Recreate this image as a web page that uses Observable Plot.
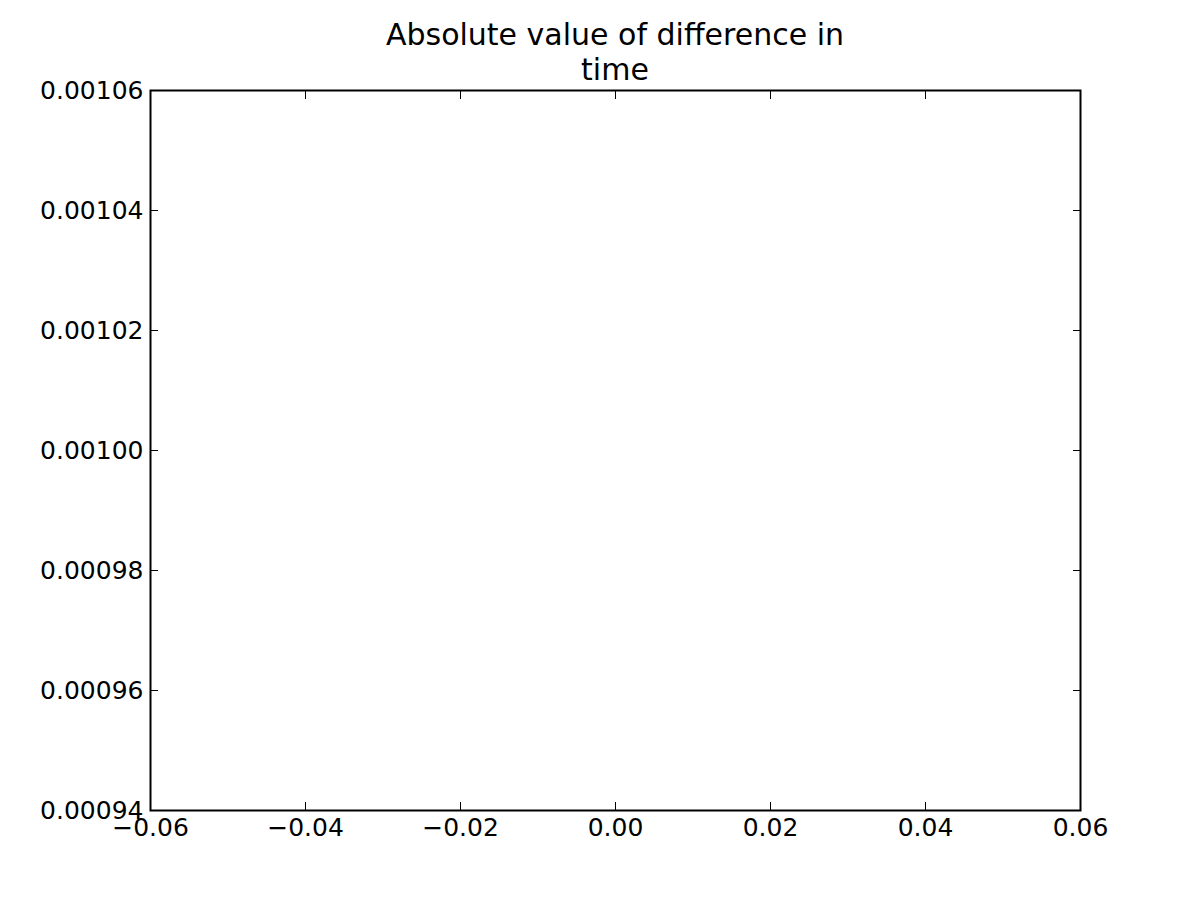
<!DOCTYPE html>
<html>
<head>
<meta charset="utf-8">
<script src="https://cdn.jsdelivr.net/npm/d3@7"></script>
<script src="https://cdn.jsdelivr.net/npm/@observablehq/plot@0.6"></script>
<style>
  html, body { margin: 0; padding: 0; background: #fff; }
  #wrap { position: relative; width: 1200px; height: 900px; font-family: "DejaVu Sans", sans-serif; }
  #title { position: absolute; left: 150px; width: 930px; top: 18px; text-align: center;
           font-size: 30px; line-height: 34.5px; color: #000; }
  svg { overflow: visible; }
</style>
</head>
<body>
<div id="wrap">
  <div id="title">Absolute value of difference in<br>time</div>
</div>
<script>
const titleLines = ["Absolute value of difference in", "time"];
const xDomain = [-0.06, 0.06];
const yDomain = [0.00094, 0.00106];
const xTicks = [-0.06, -0.04, -0.02, 0.00, 0.02, 0.04, 0.06];
const yTicks = [0.00094, 0.00096, 0.00098, 0.00100, 0.00102, 0.00104, 0.00106];

const fx = d3.format(".2f");
const fy = d3.format(".5f");

const chart = Plot.plot({
  width: 1200,
  height: 900,
  marginLeft: 150,
  marginRight: 120,
  marginTop: 90,
  marginBottom: 90,
  style: { fontFamily: "DejaVu Sans, sans-serif", fontSize: "25px", color: "#000", background: "#fff", overflow: "visible" },
  x: { domain: xDomain },
  y: { domain: yDomain },
  marks: [
    Plot.axisX({ anchor: "bottom", ticks: xTicks, tickFormat: fx, tickSize: -8, tickPadding: 16, label: null, fontSize: 25 }),
    Plot.axisX({ anchor: "top", ticks: xTicks, tickFormat: () => "", tickSize: -8, label: null }),
    Plot.axisY({ anchor: "left", ticks: yTicks, tickFormat: fy, tickSize: -8, tickPadding: 15, label: null, fontSize: 25 }),
    Plot.axisY({ anchor: "right", ticks: yTicks, tickFormat: () => "", tickSize: -8, label: null }),
    Plot.frame({ stroke: "#000", strokeWidth: 2 })
  ]
});
document.getElementById("wrap").appendChild(chart);
</script>
</body>
</html>
